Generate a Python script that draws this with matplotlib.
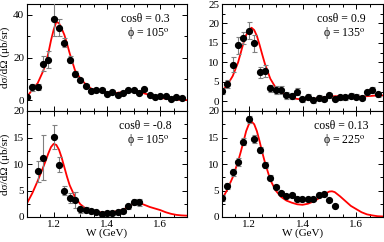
"""Differential cross sections dσ/dΩ vs W for four (cosθ, ϕ) bins, data + model curve."""
import matplotlib
matplotlib.use('Agg')
import matplotlib.pyplot as plt
from matplotlib.ticker import MultipleLocator

plt.rcParams['font.family'] = ['Liberation Serif', 'DejaVu Serif']
plt.rcParams['mathtext.fontset'] = 'stix'

# ── Data ──────────────────────────────────────────────────────────────────────

# panel (a): cosθ = 0.3, ϕ = 105°
W_A   = [1.10, 1.12, 1.14, 1.16, 1.18, 1.20, 1.22, 1.24, 1.26, 1.28, 1.30, 1.32, 1.34, 1.36, 1.38,
         1.40, 1.42, 1.44, 1.46, 1.48, 1.50, 1.52, 1.54, 1.56, 1.58, 1.60, 1.62, 1.64, 1.66, 1.68]
XS_A  = [1.6, 6.0, 6.3, 17.0, 19.0, 38.0, 34.0, 27.0, 19.0, 12.3, 9.4, 6.9, 4.4, 4.6, 5.0,
         3.0, 4.0, 2.5, 3.5, 4.8, 4.8, 3.6, 5.2, 2.5, 1.6, 2.2, 1.9, 0.6, 1.6, 0.9]
ERR_A = [0.6, 1.5, 1.5, 3.5, 4.0, 8.0, 4.0, 2.2, 1.5, 1.2, 1.0, 0.8, 0.7, 0.7, 0.7,
         0.7, 0.7, 0.6, 0.6, 0.7, 0.7, 0.6, 0.7, 0.6, 0.5, 0.5, 0.5, 0.5, 0.5, 0.5]

# panel (b): cosθ = 0.9, ϕ = 135°
W_B   = [1.10, 1.12, 1.14, 1.16, 1.18, 1.20, 1.22, 1.24, 1.26, 1.28, 1.30, 1.32, 1.34, 1.36, 1.38,
         1.40, 1.42, 1.44, 1.46, 1.48, 1.50, 1.52, 1.54, 1.56, 1.58, 1.60, 1.62, 1.64, 1.66, 1.68]
XS_B  = [2.6, 4.5, 9.4, 14.4, 16.3, 18.1, 14.9, 7.4, 7.8, 3.3, 2.8, 2.8, 1.5, 1.4, 2.5,
         0.5, 1.1, 0.2, 0.9, 0.6, 1.5, 0.6, 1.0, 1.0, 1.4, 1.2, 0.8, 2.3, 2.9, 1.8]
ERR_B = [0.7, 1.0, 2.0, 2.2, 1.5, 2.2, 2.2, 1.5, 1.5, 1.0, 1.0, 1.0, 0.8, 0.8, 0.9,
         0.6, 0.7, 0.6, 0.7, 0.6, 0.7, 0.6, 0.6, 0.6, 0.6, 0.6, 0.6, 0.7, 0.8, 0.7]

# panel (c): cosθ = -0.8, ϕ = 105°
W_C   = [1.14, 1.16, 1.20, 1.22, 1.24, 1.26, 1.28, 1.30, 1.32, 1.34, 1.36, 1.38, 1.40, 1.42,
         1.44, 1.46, 1.48, 1.50, 1.52]
XS_C  = [8.6, 11.2, 15.1, 9.9, 5.0, 3.6, 3.2, 1.45, 1.4, 1.2, 0.9, 0.65, 0.7, 0.7,
         0.9, 1.1, 2.0, 2.8, 2.75]
ERR_C = [2.0, 4.3, 2.2, 1.5, 0.8, 0.9, 1.5, 0.7, 0.5, 0.4, 0.3, 0.3, 0.3, 0.3,
         0.3, 0.3, 0.4, 0.6, 0.7]

# panel (d): cosθ = 0.13, ϕ = 225°
W_D   = [1.10, 1.12, 1.14, 1.16, 1.18, 1.20, 1.22, 1.24, 1.26, 1.28, 1.30, 1.32, 1.34, 1.36, 1.38,
         1.40, 1.42, 1.44, 1.46, 1.48, 1.50, 1.52]
XS_D  = [3.6, 5.85, 8.4, 10.4, 14.2, 18.4, 14.7, 12.6, 9.8, 7.4, 5.7, 4.6, 3.9, 4.15, 3.4,
         3.35, 3.4, 3.4, 4.15, 4.3, 3.15, 2.15]
ERR_D = [0.5, 0.6, 0.7, 0.7, 0.7, 0.7, 0.7, 0.6, 0.6, 0.5, 0.4, 0.3, 0.3, 0.3, 0.3,
         0.3, 0.3, 0.3, 0.3, 0.3, 0.3, 0.3]

W_CURVE = [1.10, 1.12, 1.14, 1.16, 1.17, 1.18, 1.19, 1.20, 1.21, 1.22, 1.23, 1.24, 1.25, 1.26,
           1.28, 1.30, 1.32, 1.34, 1.36, 1.38, 1.40, 1.42, 1.44, 1.46, 1.48, 1.50, 1.51, 1.52,
           1.54, 1.56, 1.58, 1.60, 1.62, 1.64, 1.66, 1.68, 1.70]
CURVE_A = [1.6, 5.0, 8.0, 13.5, 17.0, 22.0, 28.0, 33.0, 36.7, 36.0, 33.5, 30.6, 26.5, 22.0,
           14.0, 10.2, 7.5, 5.5, 4.6, 4.0, 3.6, 3.4, 3.5, 3.9, 4.3, 4.5, 4.4, 4.1,
           3.2, 2.5, 1.7, 1.1, 0.8, 0.5, 0.3, 0.2, 0.1]
CURVE_B = [2.6, 4.2, 6.5, 10.0, 12.5, 15.0, 17.0, 18.3, 18.9, 18.3, 16.8, 14.5, 12.0, 9.6,
           5.8, 3.5, 2.2, 1.4, 0.9, 0.6, 0.5, 0.5, 0.6, 0.8, 1.0, 1.2, 1.25, 1.3,
           1.3, 1.2, 1.1, 1.1, 1.2, 1.3, 1.4, 1.5, 1.5]
CURVE_C = [2.6, 4.5, 6.8, 9.3, 10.6, 12.0, 13.2, 13.8, 13.6, 12.7, 11.2, 9.4, 7.6, 6.0,
           3.8, 2.4, 1.6, 1.2, 0.95, 0.85, 0.85, 0.95, 1.1, 1.4, 1.9, 2.6, 2.75, 2.7,
           2.3, 1.9, 1.6, 1.3, 0.9, 0.6, 0.4, 0.3, 0.25]
CURVE_D = [3.3, 5.2, 7.5, 10.5, 12.3, 14.2, 16.2, 17.5, 18.0, 17.5, 16.2, 14.3, 12.2, 10.3,
           7.0, 5.0, 3.8, 3.1, 2.7, 2.4, 2.3, 2.5, 2.9, 3.5, 4.3, 4.8, 4.85, 4.7,
           3.9, 3.0, 2.1, 1.5, 0.9, 0.5, 0.3, 0.15, 0.1]

COS_LABELS = ['0.3', '0.9', '-0.8', '0.13']
PHI_LABELS = ['105', '135', '105', '225']
Y_LIMS     = [(-5, 45), (-2.5, 25), (0, 20), (0, 20)]
Y_MAJOR    = [20, 5, 5, 5]

# ── Layout (figure fractions) ─────────────────────────────────────────────────

W_PX, H_PX = 384, 242
COLS = [(27, 187), (222, 383)]      # pixel x-extent of each column
ROWS = [(4, 111), (111, 217)]       # pixel y-extent (from top) of each row


def ax_rect(col, row):
    x0, x1 = COLS[col]
    y0, y1 = ROWS[row]
    return [x0 / W_PX, 1 - y1 / H_PX, (x1 - x0) / W_PX, (y1 - y0) / H_PX]


def draw_panel(ax, W, xs, err, curve, cos_lab, phi_lab, ylim, ymaj, left, bottom):
    ax.plot(W_CURVE, curve, color='#ff0000', lw=1.3, zorder=2)
    ax.errorbar(W, xs, yerr=err, fmt='o', color='black', ms=4.2,
                ecolor='#808080', elinewidth=0.8, capsize=1.8, capthick=0.8, zorder=3)
    ax.set_xlim(1.1, 1.7)
    ax.set_ylim(*ylim)
    ax.xaxis.set_major_locator(MultipleLocator(0.2))
    ax.xaxis.set_minor_locator(MultipleLocator(0.05))
    ax.yaxis.set_major_locator(MultipleLocator(ymaj))
    ax.yaxis.set_minor_locator(MultipleLocator(ymaj / 2))
    ax.tick_params(which='both', direction='in', top=True, right=True, labelsize=8, width=0.7)
    ax.tick_params(which='major', length=3.5, pad=2)
    ax.tick_params(which='minor', length=2)
    for s in ax.spines.values():
        s.set_linewidth(0.8)
    if not bottom:
        ax.set_xticklabels([])
    else:
        ax.set_xlabel('W (GeV)', fontsize=8, labelpad=0)
    if left:
        ax.set_ylabel('dσ/dΩ (μb/sr)', fontsize=8, labelpad=2)
    ax.text(0.74, 0.86, 'cosθ = ' + cos_lab, transform=ax.transAxes,
            ha='center', va='center', fontsize=8.5)
    ax.text(0.76, 0.73, 'ϕ = ' + phi_lab + r'$^{\rm o}$', transform=ax.transAxes,
            ha='center', va='center', fontsize=8.5)


def main():
    fig = plt.figure(figsize=(W_PX / 100, H_PX / 100), dpi=100)
    panels = [(W_A, XS_A, ERR_A, CURVE_A), (W_B, XS_B, ERR_B, CURVE_B),
              (W_C, XS_C, ERR_C, CURVE_C), (W_D, XS_D, ERR_D, CURVE_D)]
    for i, (W, xs, err, curve) in enumerate(panels):
        col, row = i % 2, i // 2
        ax = fig.add_axes(ax_rect(col, row))
        draw_panel(ax, W, xs, err, curve, COS_LABELS[i], PHI_LABELS[i],
                   Y_LIMS[i], Y_MAJOR[i], left=(col == 0), bottom=(row == 1))
    fig.savefig('out.png', dpi=100)
    plt.close(fig)


if __name__ == '__main__':
    main()
